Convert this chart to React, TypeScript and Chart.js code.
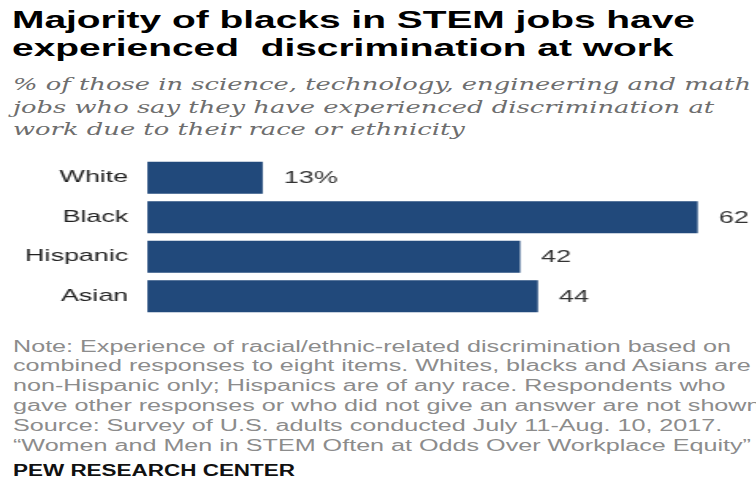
import React, { useEffect, useMemo, useRef } from "react";
import { Chart, registerables } from "chart.js";

Chart.register(...registerables);

const categories = ["White", "Black", "Hispanic", "Asian"];
const values = [13, 62, 42, 44];
const valueLabels = ["13%", "62", "42", "44"];

const titleLines = ["Majority of blacks in STEM jobs have", "experienced  discrimination at work"];
const subtitleLines = [
  "% of those in science, technology, engineering and math",
  "jobs who say they have experienced discrimination at",
  "work due to their race or ethnicity",
];
const noteLines = [
  "Note: Experience of racial/ethnic-related discrimination based on",
  "combined responses to eight items. Whites, blacks and Asians are",
  "non-Hispanic only; Hispanics are of any race. Respondents who",
  "gave other responses or who did not give an answer are not shown.",
  "Source: Survey of U.S. adults conducted July 11-Aug. 10, 2017.",
  "\u201cWomen and Men in STEM Often at Odds Over Workplace Equity\u201d",
];
const sourceLabel = "PEW RESEARCH CENTER";

const BAR = "#21497b";
const SANS = "'Liberation Sans', Arial, sans-serif";
const S = 1.58; // horizontal stretch of the chart canvas
const CW = 756 / S;

const valueLabelPlugin = {
  id: "valueLabels",
  afterDatasetsDraw(chart: any) {
    const ctx = chart.ctx;
    const meta = chart.getDatasetMeta(0);
    ctx.save();
    ctx.font = `17px ${SANS}`;
    ctx.fillStyle = "#333";
    ctx.textAlign = "left";
    ctx.textBaseline = "middle";
    meta.data.forEach((bar: any, i: number) => {
      ctx.fillText(valueLabels[i], bar.x + 13.3, bar.y + 1);
    });
    ctx.restore();
  },
};

function FitText(props: {
  lines: string[];
  font: string;
  lineHeight: number;
  target: number;
  refIndex?: number;
  left: number;
  top: number;
  color: string;
}) {
  const { lines, font, lineHeight, target, refIndex = 0, left, top, color } = props;
  const scale = useMemo(() => {
    const c = document.createElement("canvas").getContext("2d")!;
    c.font = font;
    return target / c.measureText(lines[refIndex]).width;
  }, [font, target]);
  return (
    <div
      style={{
        position: "absolute",
        left,
        top,
        font,
        lineHeight: lineHeight + "px",
        color,
        whiteSpace: "pre",
        transform: `scaleX(${scale})`,
        transformOrigin: "0 0",
      }}
    >
      {lines.map((l, i) => (
        <div key={i}>{l}</div>
      ))}
    </div>
  );
}

export default function App() {
  const ref = useRef<HTMLCanvasElement>(null);
  useEffect(() => {
    const chart = new Chart(ref.current!, {
      type: "bar",
      data: {
        labels: categories,
        datasets: [
          {
            data: values,
            backgroundColor: BAR,
            barPercentage: 0.9,
            categoryPercentage: 0.9,
          },
        ],
      },
      options: {
        indexAxis: "y",
        animation: false,
        responsive: true,
        maintainAspectRatio: false,
        layout: { padding: { top: 8, bottom: 4, right: 9.8, left: 0 } },
        plugins: { legend: { display: false }, tooltip: { enabled: false } },
        scales: {
          x: { display: false, min: 0, max: 67 },
          y: {
            grid: { display: false, drawTicks: false },
            border: { display: false },
            ticks: {
              padding: 12,
              color: "#222",
              font: { family: SANS, size: 17 },
            },
            afterFit: (s: any) => {
              s.width = 147 / S;
              s.paddingTop = 0;
              s.paddingBottom = 0;
            },
          },
        },
      },
      plugins: [valueLabelPlugin],
    });
    return () => chart.destroy();
  }, []);

  return (
    <div
      style={{
        position: "fixed",
        left: 0,
        top: 0,
        width: 756,
        height: 480,
        background: "#fff",
        overflow: "hidden",
      }}
    >
      <FitText
        lines={titleLines}
        font={`bold 24px ${SANS}`}
        lineHeight={28}
        target={683}
        left={12}
        top={6}
        color="#000"
      />
      <FitText
        lines={subtitleLines}
        font="italic 17px 'DejaVu Serif', Georgia, serif"
        lineHeight={22.5}
        target={738}
        left={13}
        top={73}
        color="#6e6e6e"
      />
      <div
        style={{
          position: "absolute",
          left: 0,
          top: 150,
          width: CW,
          height: 170,
          transform: `scaleX(${S})`,
          transformOrigin: "0 0",
        }}
      >
        <canvas ref={ref} />
      </div>
      <FitText
        lines={noteLines}
        font={`16px ${SANS}`}
        lineHeight={19.8}
        target={739}
        refIndex={1}
        left={13}
        top={336.6}
        color="#8c8c8c"
      />
      <FitText
        lines={[sourceLabel]}
        font={`bold 16px ${SANS}`}
        lineHeight={16}
        target={282}
        left={13}
        top={463}
        color="#111"
      />
    </div>
  );
}
